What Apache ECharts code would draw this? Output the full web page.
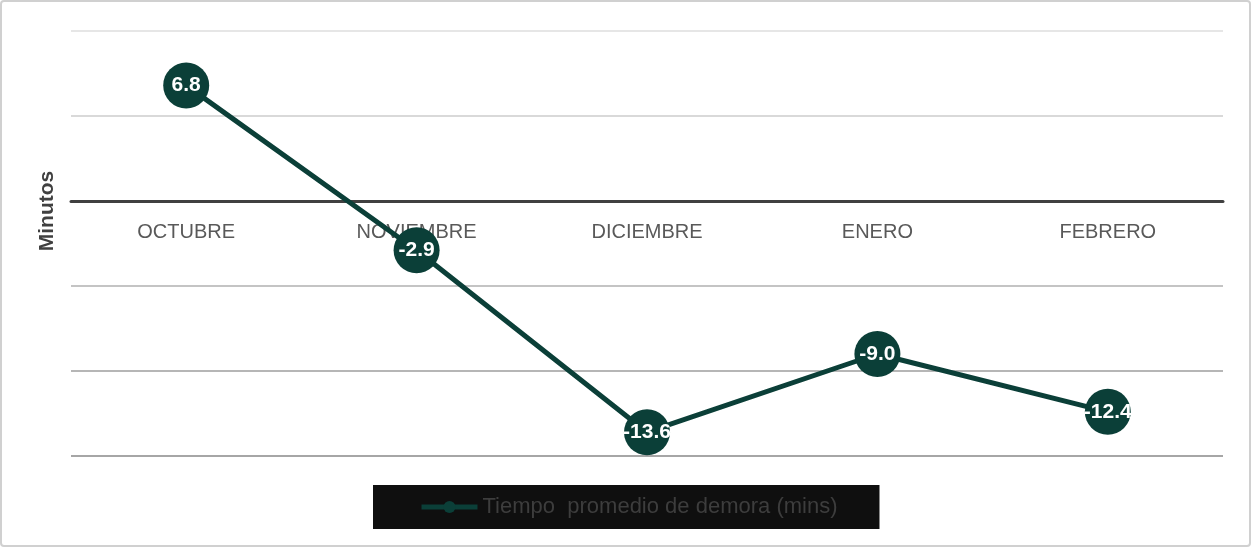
<!DOCTYPE html>
<html>
<head>
<meta charset="utf-8">
<script src="https://cdn.jsdelivr.net/npm/echarts@6/dist/echarts.min.js"></script>
<style>
  html, body { margin: 0; padding: 0; background: #ffffff; }
  #chart { width: 1252px; height: 548px; }
</style>
</head>
<body>
<div id="chart"></div>
<script>
// Monthly average delay, in minutes
const months = ['OCTUBRE', 'NOVIEMBRE', 'DICIEMBRE', 'ENERO', 'FEBRERO'];
const delayMinutes = [6.8, -2.9, -13.6, -9.0, -12.4];
const seriesName = 'Tiempo  promedio de demora (mins)';
const yAxisTitle = 'Minutos';
const yMin = -15;
const yMax = 10;
const yStep = 5;

const lineColor = '#0b3f38';
const sansFont = '"Liberation Sans", Arial, sans-serif';

const chartW = 1252, chartH = 548;
const gridTop = 31, gridBottom = 92;
// The category axis sits on the zero line: shift it up from the grid bottom
const plotH = chartH - gridTop - gridBottom;
const zeroOffset = -plotH * (0 - yMin) / (yMax - yMin);

const chart = echarts.init(document.getElementById('chart'), null, { renderer: 'canvas' });

chart.setOption({
  backgroundColor: '#ffffff',
  animation: false,
  grid: { left: 71, right: 29, top: gridTop, bottom: gridBottom, containLabel: false },
  graphic: [
    {
      type: 'rect',
      shape: { x: 1, y: 1, width: 1249, height: 545, r: 3 },
      style: { fill: 'none', stroke: '#d0d0d0', lineWidth: 2 },
      z: -10
    },
    {
      type: 'text',
      x: 47, y: 211,
      rotation: Math.PI / 2,
      style: {
        text: yAxisTitle,
        font: 'bold 21px ' + sansFont,
        fill: '#404040',
        align: 'center',
        verticalAlign: 'middle'
      }
    }
  ],
  legend: {
    data: [{
      name: seriesName,
      lineStyle: { width: 5, color: lineColor },
      itemStyle: { color: lineColor }
    }],
    left: 373,
    top: 485,
    padding: [11, 42, 11, 46],
    backgroundColor: '#0f0f0f',
    itemWidth: 56,
    itemHeight: 15,
    itemGap: 0,
    textStyle: {
      color: '#3d3d3d',
      fontSize: 22,
      fontFamily: sansFont
    }
  },
  xAxis: {
    type: 'category',
    data: months,
    boundaryGap: true,
    position: 'bottom',
    offset: zeroOffset,
    axisLine: {
      show: true,
      onZero: false,
      lineStyle: { color: '#404040', width: 3 }
    },
    axisTick: { show: false },
    axisLabel: {
      margin: 21,
      color: '#595959',
      fontSize: 20,
      fontFamily: sansFont
    },
    splitLine: { show: false }
  },
  yAxis: {
    type: 'value',
    min: yMin,
    max: yMax,
    interval: yStep,
    axisLine: { show: false },
    axisTick: { show: false },
    axisLabel: { show: false },
    splitLine: {
      show: true,
      lineStyle: {
        width: 2,
        color: ['#a6a6a6', '#b6b6b6', '#c4c4c4', '#404040', '#d9d9d9', '#e6e6e6']
      }
    }
  },
  series: [
    {
      name: seriesName,
      type: 'line',
      data: delayMinutes,
      symbol: 'circle',
      symbolSize: 46,
      lineStyle: { color: lineColor, width: 5 },
      itemStyle: { color: lineColor },
      label: {
        show: true,
        position: 'inside',
        color: '#ffffff',
        fontWeight: 'bold',
        fontSize: 21,
        fontFamily: sansFont,
        formatter: (p) => p.value.toFixed(1)
      },
      z: 3
    }
  ]
});
</script>
</body>
</html>
